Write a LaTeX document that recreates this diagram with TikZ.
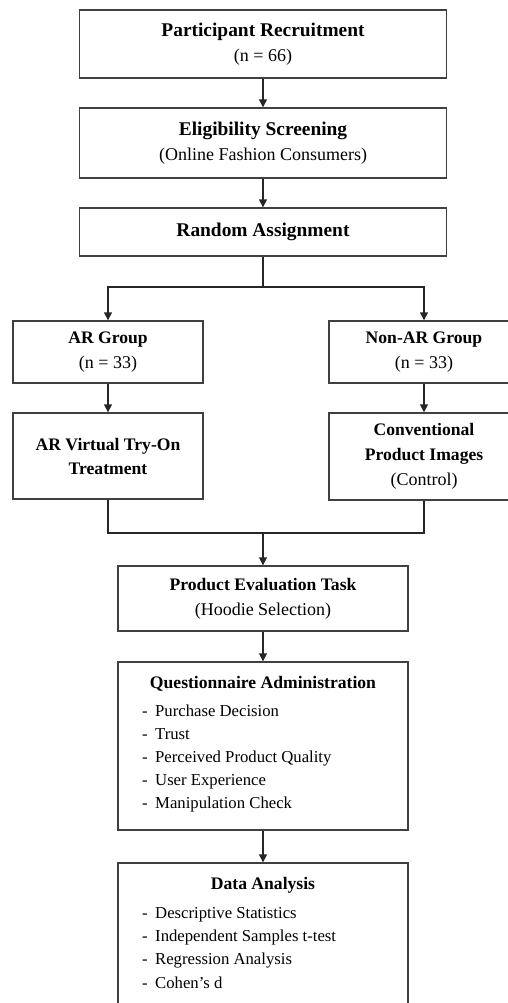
\documentclass[tikz,border=0pt]{standalone}
\usepackage{fontspec}
\setmainfont{Liberation Serif}
\usetikzlibrary{arrows.meta}

\begin{document}
\begin{tikzpicture}[
    x=1pt,
    y=-1pt,
    every node/.style={font=\fontsize{18}{25}\selectfont, inner sep=0pt},
    box/.style={draw=black!75, line width=1.4pt, align=center},
    topbox/.style={box, minimum width=367},
    sidebox/.style={box, minimum width=190},
    lowbox/.style={box, minimum width=290},
    tophd/.style={font=\fontsize{19.4}{25}\selectfont\bfseries},
    hd/.style={font=\fontsize{17.6}{24}\selectfont\bfseries},
    items/.style={font=\fontsize{16.7}{23}\selectfont, align=left, anchor=north west},
    link/.style={draw=black!85, line width=1.4pt},
    arr/.style={link, -{Triangle[length=8pt, width=8pt]}}
  ]
    \clip (0,0) rectangle (508,1003);

    % top column
    \node[topbox, minimum height=68] (recruit) at (263,44)
      {{\fontsize{19.4}{26}\selectfont\bfseries Participant Recruitment}\\(n = 66)};
    \node[topbox, minimum height=70] (screen) at (263,143)
      {{\fontsize{19.4}{26}\selectfont\bfseries Eligibility Screening}\\(Online Fashion Consumers)};
    \node[topbox, minimum height=48, tophd] (assign) at (263,232) {Random Assignment};

    % two groups
    \node[sidebox, minimum height=62] (argroup) at (108,352)
      {{\fontsize{17.6}{24}\selectfont\bfseries AR Group}\\(n = 33)};
    \node[sidebox, minimum height=62] (nonargroup) at (424,352)
      {{\fontsize{17.6}{24}\selectfont\bfseries Non-AR Group}\\(n = 33)};
    \node[sidebox, minimum height=86, font=\fontsize{17.6}{24}\selectfont\bfseries] (treat) at (108,456)
      {AR Virtual Try-On\\Treatment};
    \node[sidebox, minimum height=87] (control) at (424,456.5)
      {{\fontsize{17.6}{24.5}\selectfont\bfseries Conventional}\\{\fontsize{17.6}{24.5}\selectfont\bfseries Product Images}\\(Control)};

    % lower column
    \node[lowbox, minimum height=65] (evaltask) at (263,598.5)
      {{\fontsize{17.6}{24.5}\selectfont\bfseries Product Evaluation Task}\\(Hoodie Selection)};

    \node[lowbox, minimum height=168] (survey) at (263,746) {};
    \node[hd] (surveyhd) at (263,684) {Questionnaire Administration};
    \node[items] (surveyitems) at (142,705)
      {\makebox[13pt][l]{-}Purchase Decision\\
       \makebox[13pt][l]{-}Trust\\
       \makebox[13pt][l]{-}Perceived Product Quality\\
       \makebox[13pt][l]{-}User Experience\\
       \makebox[13pt][l]{-}Manipulation Check};

    \node[lowbox, minimum height=170] (analysis) at (263,948) {};
    \node[hd] (analysishd) at (263,885) {Data Analysis};
    \node[items, font=\fontsize{16.7}{23.3}\selectfont] (analysisitems) at (142,907)
      {\makebox[13pt][l]{-}Descriptive Statistics\\
       \makebox[13pt][l]{-}Independent Samples t-test\\
       \makebox[13pt][l]{-}Regression Analysis\\
       \makebox[13pt][l]{-}Cohen’s d};

    % connectors
    \coordinate (split) at (263,287);
    \coordinate (merge) at (263,533);

    \draw[arr] (recruit) -- (screen);
    \draw[arr] (screen) -- (assign);
    \draw[link] (assign) -- (split);
    \draw[arr] (split) -| (argroup);
    \draw[arr] (split) -| (nonargroup);
    \draw[arr] (argroup) -- (treat);
    \draw[arr] (nonargroup) -- (control);
    \draw[link] (treat) |- (merge);
    \draw[link] (control) |- (merge);
    \draw[arr] (merge) -- (evaltask);
    \draw[arr] (evaltask) -- (survey);
    \draw[arr] (survey) -- (analysis);
  \end{tikzpicture}
\end{document}
